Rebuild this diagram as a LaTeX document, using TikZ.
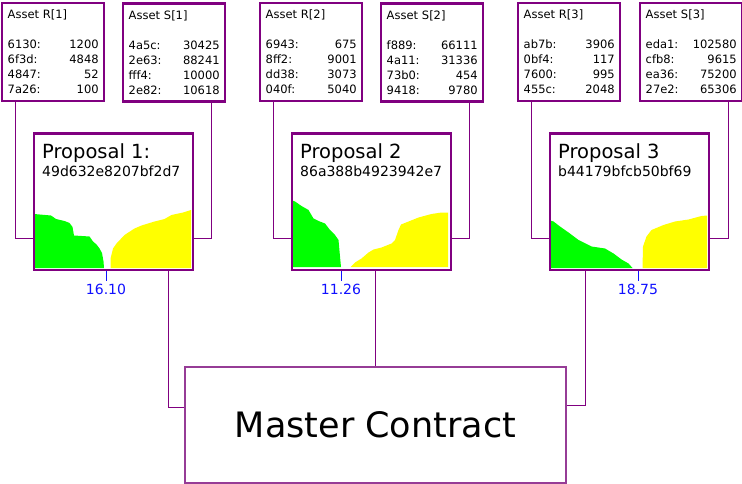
\documentclass[tikz,border=0pt]{standalone}
\usepackage{fontspec}
\setmainfont{DejaVu Sans}
\usepackage{xcolor}
\usepackage{tikz}
\usetikzlibrary{positioning,calc}

\definecolor{boxpurple}{HTML}{800080}
\definecolor{masterpurple}{HTML}{963C96}
\definecolor{valblue}{HTML}{1010FF}
\definecolor{bidgreen}{HTML}{00FF00}
\definecolor{askyellow}{HTML}{FFFF00}

\tikzset{
  assetbox/.style={draw=boxpurple, line width=2.4pt, anchor=north west,
    minimum width=102pt, minimum height=98pt, text width=91pt,
    inner xsep=5.5pt, inner ysep=0pt, align=left,
    font=\fontsize{11.5}{15}\selectfont},
  propbox/.style={draw=boxpurple, line width=2.4pt, anchor=north west,
    minimum width=159pt, minimum height=136pt, inner sep=0pt},
  proptitle/.style={anchor=base west, inner sep=0pt, font=\fontsize{19.5}{23}\selectfont},
  prophash/.style={anchor=base west, inner sep=0pt, font=\fontsize{14}{17}\selectfont},
  masterbox/.style={draw=masterpurple, line width=1.6pt, minimum width=381pt,
    minimum height=116pt, inner sep=0pt, font=\fontsize{35}{40}\selectfont},
  link/.style={draw=boxpurple, line width=1pt},
  tick/.style={draw=valblue, line width=1pt},
  vallabel/.style={anchor=base, inner sep=2.5pt, text=valblue, font=\fontsize{14}{17}\selectfont}
}

\begin{document}
\begin{tikzpicture}[x=1pt,y=-1pt]
\useasboundingbox (0,0) rectangle (742,484);

% Bid / ask curves
\fill[bidgreen] (34,268) -- (34,214) -- (51,215.5) -- (56,219) -- (64.5,221) -- (69.5,223) -- (72.5,227) -- (74,235.5) -- (89.5,236.5) -- (93,241.5) -- (96.5,244.5) -- (99.5,248.5) -- (102,253) -- (103.5,261.5) -- (104,268) -- cycle;
\fill[askyellow] (110.5,268) -- (110.5,258.5) -- (113,248.5) -- (116.5,243.5) -- (124.5,235) -- (134.5,228.5) -- (141.5,225.5) -- (154.5,221.5) -- (164.5,219) -- (171.5,215) -- (183,212.5) -- (191,210) -- (191,268) -- cycle;
\fill[bidgreen] (291,267) -- (291,200) -- (295,201.5) -- (301.5,206) -- (308.5,210) -- (313.5,218.5) -- (318.5,221) -- (325,223.5) -- (330,230) -- (335,235) -- (338.5,240) -- (340,256.5) -- (341,267) -- cycle;
\fill[askyellow] (350.5,267) -- (355,262.5) -- (361.5,258.5) -- (368.5,252.5) -- (373.5,249.5) -- (381.5,247.5) -- (391.5,243.5) -- (395,240) -- (398.5,230) -- (401,224.5) -- (408.5,221.5) -- (418.5,217.5) -- (431.5,214) -- (441.5,212.5) -- (448,212.5) -- (448,267) -- cycle;
\fill[bidgreen] (550,268) -- (550,220.5) -- (553.5,221.5) -- (560,226.5) -- (568.5,232.5) -- (578.5,240) -- (591.5,246.5) -- (605,248.5) -- (613.5,253.5) -- (621.5,259.5) -- (628.5,263.5) -- (632.5,268) -- cycle;
\fill[askyellow] (642.5,268) -- (643,246.5) -- (646.5,236.5) -- (651.5,230) -- (663.5,225) -- (675,221.5) -- (688.5,219.5) -- (701.5,216) -- (707,215.5) -- (707,268) -- cycle;

% Proposals
\foreach \i/\x/\name/\hash in {1/33/{Proposal 1:}/49d632e8207bf2d7, 2/291/{Proposal 2}/86a388b4923942e7, 3/549/{Proposal 3}/b44179bfcb50bf69} {
    \node[propbox] (p\i) at (\x,132.5) {};
    \node[proptitle] (t\i) at (\x+9,158.5) {\name};
    \node[prophash] (h\i) at (\x+9,176.5) {\hash};
}

% Assets
\node[assetbox] (r1) at (1,2) {Asset R[1]\\[15pt]6130:\hfill 1200\\6f3d:\hfill 4848\\4847:\hfill 52\\7a26:\hfill 100};
\node[assetbox] (s1) at (122,2.5) {Asset S[1]\\[15pt]4a5c:\hfill 30425\\2e63:\hfill 88241\\fff4:\hfill 10000\\2e82:\hfill 10618};
\node[assetbox] (r2) at (259,2) {Asset R[2]\\[15pt]6943:\hfill 675\\8ff2:\hfill 9001\\dd38:\hfill 3073\\040f:\hfill 5040};
\node[assetbox] (s2) at (380,2.5) {Asset S[2]\\[15pt]f889:\hfill 66111\\4a11:\hfill 31336\\73b0:\hfill 454\\9418:\hfill 9780};
\node[assetbox] (r3) at (517,2) {Asset R[3]\\[15pt]ab7b:\hfill 3906\\0bf4:\hfill 117\\7600:\hfill 995\\455c:\hfill 2048};
\node[assetbox] (s3) at (639,2) {Asset S[3]\\[15pt]eda1:\hfill 102580\\cfb8:\hfill 9615\\ea36:\hfill 75200\\27e2:\hfill 65306};

\foreach \i in {1,2,3} {
    \draw[link] ([xshift=14pt]r\i.south west) |- ([yshift=-37pt]p\i.west);
    \draw[link] ([xshift=-15pt]s\i.south east) |- ([yshift=-37pt]p\i.east);
}

% Master
\node[masterbox] (master) at (375.5,425) {Master Contract};
\draw[link] ([xshift=54.5pt]p1.south) |- ([yshift=18pt]master.west);
\draw[link] (p2.south -| master.north) -- (master.north);
\draw[link] ([xshift=-44.5pt]p3.south) |- ([yshift=20pt]master.east);

% Clearing prices
\foreach \i/\m/\val in {1/106/16.10, 2/341/11.26, 3/638/18.75} {
    \coordinate (m\i) at (p\i.south -| \m,0);
    \node[vallabel] (v\i) at (\m,294) {\val};
    \draw[tick] (m\i) -- (v\i.north);
}
\end{tikzpicture}
\end{document}
